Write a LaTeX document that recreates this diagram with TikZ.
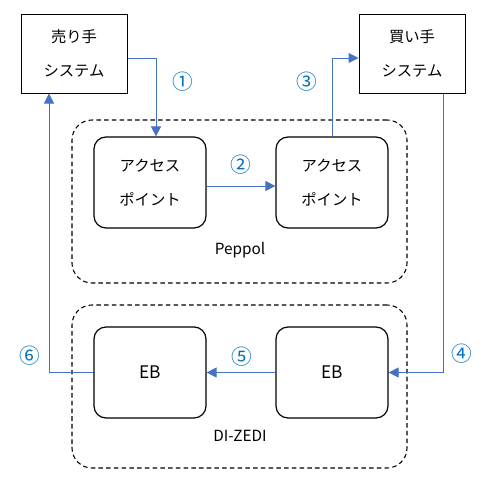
\documentclass[tikz,border=0pt]{standalone}
\usepackage{fontspec}
\setmainfont{Noto Sans CJK JP}
\usepackage{xcolor}
\definecolor{flowblue}{RGB}{68,114,196}
\definecolor{numblue}{RGB}{0,112,192}
\usepackage{tikz}
\usetikzlibrary{arrows.meta,positioning,calc}

\begin{document}
\begin{tikzpicture}[
  x=0.75pt,y=-0.75pt,
  sysbox/.style={rectangle,draw,line width=0.75pt,minimum width=79.5pt,minimum height=59.25pt,align=center,font=\fontsize{11.5}{25}\selectfont},
  apbox/.style={rectangle,draw,rounded corners=9pt,line width=0.9pt,minimum width=84pt,minimum height=68.25pt,align=center,font=\fontsize{11.5}{25}\selectfont},
  grpbox/.style={rectangle,draw,rounded corners=15pt,line width=0.8pt,dash pattern=on 3.4pt off 2.4pt,minimum width=251.25pt,minimum height=122.25pt},
  glabel/.style={font=\fontsize{11.5}{14}\selectfont},
  num/.style={text=numblue,font=\fontsize{15.5}{17}\selectfont},
  flow/.style={-{Triangle[length=7.5pt,width=7.5pt]},flowblue,line width=0.75pt}
]
  \useasboundingbox (0,0) rectangle (481,496);

  % Systems
  \node[sysbox] (seller) at (74,53.5) {売り手\\システム};
  \node[sysbox] (buyer) at (412,53.5) {買い手\\システム};

  % Peppol
  \node[grpbox] (peppol) at (239.5,201.5) {};
  \node[apbox] (ap1) at (150,182.5) {アクセス\\ポイント};
  \node[apbox] (ap2) at (332,182.5) {アクセス\\ポイント};
  \node[glabel] (peppollbl) at (240,250) {Peppol};

  % DI-ZEDI
  \node[grpbox] (dizedi) at (239.5,386.5) {};
  \node[apbox,font=\fontsize{13}{16}\selectfont] (eb1) at (150,372.5) {EB};
  \node[apbox,font=\fontsize{13}{16}\selectfont] (eb2) at (332,372.5) {EB};
  \node[glabel] (dizedilbl) at (240,436) {DI-ZEDI};

  % Flows
  \draw[flow] ($(seller.east)+(0,4.5)$) -| ($(ap1.north)+(6,0)$);
  \draw[flow] ($(ap1.east)+(0,3.5)$) -- ($(ap2.west)+(0,3.5)$);
  \draw[flow] (ap2.north) |- ($(buyer.west)+(0,4.5)$);
  \draw[flow] ($(buyer.south)+(31,0)$) |- (eb2.east);
  \draw[flow] (eb2.west) -- (eb1.east);
  \draw[flow] (eb1.west) -| ($(seller.south)+(-25,0)$);

  % Step numbers
  \node[num] (n1) at (183,82) {①};
  \node[num] (n2) at (241,165) {②};
  \node[num] (n3) at (307,82) {③};
  \node[num] (n4) at (462,354) {④};
  \node[num] (n5) at (242,357) {⑤};
  \node[num] (n6) at (30,356) {⑥};
\end{tikzpicture}
\end{document}
